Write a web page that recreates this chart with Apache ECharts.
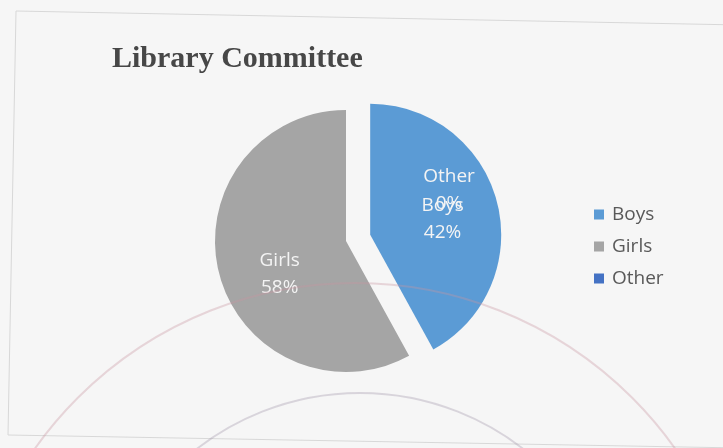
<!DOCTYPE html>
<html>
<head>
<meta charset="utf-8">
<title>Library Committee</title>
<script src="https://cdn.jsdelivr.net/npm/echarts@6/dist/echarts.min.js"></script>
<style>
  html, body { margin: 0; padding: 0; background: #f6f6f6; }
  #chart { width: 723px; height: 448px; }
</style>
</head>
<body>
<div id="chart"></div>
<script>
  // 数据
  var categories = ['Boys', 'Girls', 'Other']
  var shares = [42, 58, 0]
  var colors = ['#5b9bd5', '#a5a5a5', '#4472c4']

  var pieData = categories.map(function(name, i) {
    return { name: name, value: shares[i], selected: name === 'Boys', itemStyle: { color: colors[i] } }
  })

  var chart = echarts.init(document.getElementById('chart'))
  chart.setOption({
    animation: false,
    backgroundColor: '#f6f6f6',
    title: {
      text: 'Library Committee',
      left: 107,
      top: 39,
      textStyle: {
        fontFamily: 'Liberation Serif',
        fontWeight: 'bold',
        fontSize: 30,
        color: '#474747'
      }
    },
    legend: {
      orient: 'vertical',
      left: 589,
      top: 200,
      icon: 'rect',
      itemWidth: 10,
      itemHeight: 10,
      itemGap: 13,
      selectedMode: false,
      data: categories,
      textStyle: {
        fontFamily: 'Open Sans',
        fontSize: 19,
        color: '#595959',
        padding: [0, 0, 0, 3]
      }
    },
    graphic: [
      // 图表外框（扫描件略有倾斜）
      { type: 'polygon', shape: { points: [[16, 11], [740, 25], [740, 448], [8, 435]] }, style: { fill: null, stroke: '#d8d8d8', lineWidth: 1 }, silent: true, z: -1 },
      // 印章圆圈
      { type: 'circle', shape: { cx: 355, cy: 675, r: 392 }, style: { fill: null, stroke: 'rgba(200,150,160,0.35)', lineWidth: 2 }, silent: true, z: 10 },
      { type: 'circle', shape: { cx: 360, cy: 659, r: 266 }, style: { fill: null, stroke: 'rgba(160,150,170,0.35)', lineWidth: 2 }, silent: true, z: 10 }
    ],
    series: [{
      name: 'Library Committee',
      type: 'pie',
      center: [346, 241],
      radius: 131,
      startAngle: 90,
      clockwise: true,
      selectedMode: 'single',
      selectedOffset: 25,
      avoidLabelOverlap: false,
      emphasis: { disabled: true },
      label: {
        show: true,
        position: 'inside',
        formatter: '{b}\n{d}%',
        fontFamily: 'Open Sans',
        fontSize: 19,
        lineHeight: 27,
        color: '#f4f4f4'
      },
      labelLine: { show: false },
      labelLayout: function(params) {
        // 标签微调
        if (params.dataIndex === 0) return { dx: 6, dy: 1 }
        if (params.dataIndex === 1) return { dy: 16 }
        if (params.dataIndex === 2) return { dx: 103, dy: 18 }
        return {}
      },
      data: pieData
    }]
  })
</script>
</body>
</html>
